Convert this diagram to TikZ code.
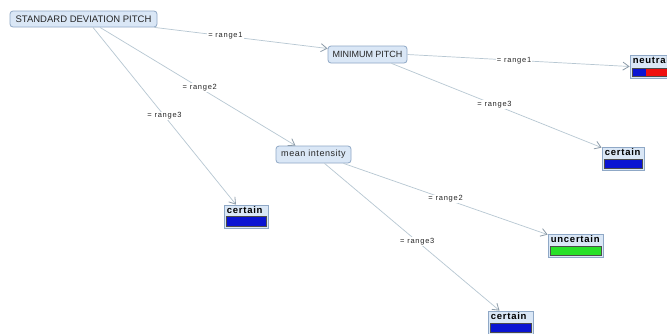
\documentclass[tikz,border=0pt]{standalone}
\usepackage{fontspec}
\setmainfont{Liberation Sans}
\usetikzlibrary{arrows.meta}
\definecolor{boxfill}{HTML}{DAE7F6}
\definecolor{boxline}{HTML}{8FA8C6}
\definecolor{edgecol}{HTML}{B7C7D2}
\definecolor{tipcol}{HTML}{8C9BA8}
\definecolor{barblue}{HTML}{0A14D2}
\definecolor{barred}{HTML}{EE1010}
\definecolor{bargreen}{HTML}{28E028}
\tikzset{
  attr/.style={draw=boxline, fill=boxfill, rounded corners=3pt, line width=0.8pt,
    font=\fontsize{9}{10}\selectfont, inner sep=0pt, text=black!85},
  leafbox/.style={draw=boxline, fill=boxfill, line width=0.8pt, inner sep=0pt},
  leaftext/.style={anchor=north west, inner sep=0pt,
    font=\fontsize{9.5}{10}\selectfont\bfseries\addfontfeature{LetterSpace=8}},
  edge/.style={draw=edgecol, line width=0.7pt,
    -{Straight Barb[length=6pt,width=8pt,color=tipcol,line width=0.8pt]}},
  elabel/.style={fill=white, inner sep=1pt,
    font=\fontsize{7.5}{9}\selectfont\addfontfeature{LetterSpace=10}, text=black!85},
  barline/.style={draw=black!70, line width=0.5pt}
}
\begin{document}
\begin{tikzpicture}[x=1pt,y=-1pt]
\useasboundingbox (0,0) rectangle (667,333);
\clip (0,0) rectangle (667,333);
\fill[white] (0,0) rectangle (667,333);

% attribute nodes
\node[attr, minimum width=147pt, minimum height=16pt] (sdp) at (83.5,19) {\fontsize{9.5}{10}\selectfont STANDARD DEVIATION PITCH};
\node[attr, minimum width=79pt, minimum height=17pt] (mp) at (367.5,54.5) {MINIMUM PITCH};
\node[attr, minimum width=75pt, minimum height=17pt] (mi) at (313.5,154.5) {\addfontfeature{LetterSpace=6}mean intensity};

% leaf nodes
\node[leafbox, minimum width=44pt, minimum height=23pt] (c1) at (246,216.5) {};
\node[leafbox, minimum width=42pt, minimum height=23pt] (c2) at (623,158.5) {};
\node[leafbox, minimum width=60pt, minimum height=23pt] (n) at (660,66.5) {};
\node[leafbox, minimum width=55pt, minimum height=23pt] (u) at (575.5,245.5) {};
\node[leafbox, minimum width=45pt, minimum height=23pt] (c3) at (510.5,322.5) {};

\node[leaftext] (c1t) at ([xshift=3pt,yshift=-2pt]c1.north west) {certain};
\node[leaftext] (c2t) at ([xshift=3pt,yshift=-2pt]c2.north west) {certain};
\node[leaftext] (nt) at ([xshift=3pt,yshift=-2pt]n.north west) {neutral};
\node[leaftext] (ut) at ([xshift=3pt,yshift=-2pt]u.north west) {uncertain};
\node[leaftext] (c3t) at ([xshift=3pt,yshift=-2pt]c3.north west) {certain};

% bars
\filldraw[barline, fill=barblue] ([xshift=3pt,yshift=-12pt]c1.north west) rectangle ([xshift=-2pt,yshift=2pt]c1.south east);
\filldraw[barline, fill=barblue] ([xshift=3pt,yshift=-13pt]c2.north west) rectangle ([xshift=-2pt,yshift=2pt]c2.south east);
\filldraw[barline, fill=bargreen] ([xshift=3pt,yshift=-13pt]u.north west) rectangle ([xshift=-2pt,yshift=2pt]u.south east);
\filldraw[barline, fill=barblue] ([xshift=3pt,yshift=-13pt]c3.north west) rectangle ([xshift=-2pt,yshift=2pt]c3.south east);
\fill[barblue] ([xshift=3pt,yshift=-14pt]n.north west) rectangle ([xshift=16pt,yshift=2pt]n.south west);
\fill[barred] ([xshift=16pt,yshift=-14pt]n.north west) rectangle ([xshift=-2pt,yshift=2pt]n.south east);
\draw[barline] ([xshift=3pt,yshift=-14pt]n.north west) rectangle ([xshift=-2pt,yshift=2pt]n.south east);

% edges
\draw[edge] ([xshift=-3pt]sdp.south east) -- node[elabel, pos=0.41] {= range1} ([yshift=6pt]mp.west);
\draw[edge] ([xshift=16.5pt]sdp.south) -- node[elabel, pos=0.51] {= range2} ([xshift=-18pt]mi.north);
\draw[edge] ([xshift=9.5pt]sdp.south) -- node[elabel, pos=0.5] {= range3} ([xshift=-10pt]c1.north);
\draw[edge] (mp.east) -- node[elabel, pos=0.48] {= range1} (n.west);
\draw[edge] ([xshift=24pt]mp.south) -- node[elabel, pos=0.49] {= range3} ([yshift=-1pt]c2.north west);
\draw[edge] ([xshift=30pt]mi.south) -- node[elabel, pos=0.5] {= range2} ([yshift=-1pt]u.north west);
\draw[edge] ([xshift=11pt]mi.south) -- node[elabel, pos=0.53] {= range3} ([xshift=-11pt]c3.north);
\end{tikzpicture}
\end{document}
